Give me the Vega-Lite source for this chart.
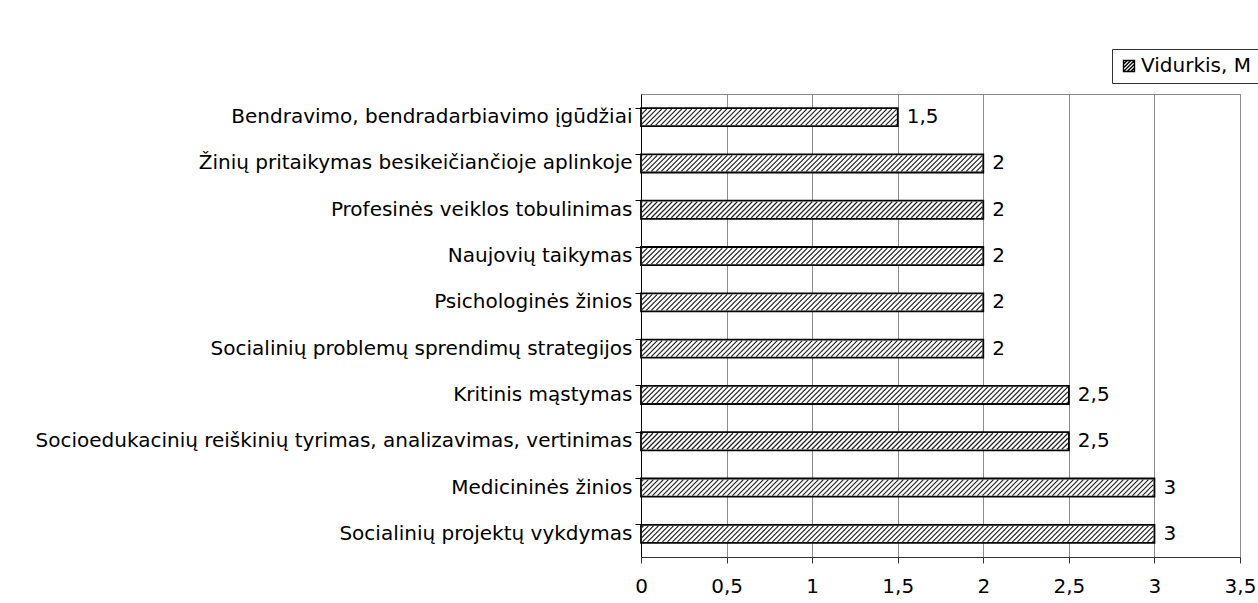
{
  "$schema": "https://vega.github.io/schema/vega-lite/v6.json",
  "width": 599,
  "height": 463,
  "autosize": {"type": "none"},
  "padding": {"left": 641, "top": 94, "right": 18, "bottom": 46},
  "background": "white",
  "config": {
    "font": "DejaVu Sans",
    "locale": {"number": {"decimal": ",", "thousands": "\u00a0", "grouping": [3], "currency": ["", " €"]}},
    "view": {"stroke": "#8c8c8c", "strokeWidth": 1}
  },
  "data": {
    "values": [
      {"kategorija": "Bendravimo, bendradarbiavimo įgūdžiai", "reiksme": 1.5},
      {"kategorija": "Žinių pritaikymas besikeičiančioje aplinkoje", "reiksme": 2},
      {"kategorija": "Profesinės veiklos tobulinimas", "reiksme": 2},
      {"kategorija": "Naujovių taikymas", "reiksme": 2},
      {"kategorija": "Psichologinės žinios", "reiksme": 2},
      {"kategorija": "Socialinių problemų sprendimų strategijos", "reiksme": 2},
      {"kategorija": "Kritinis mąstymas", "reiksme": 2.5},
      {"kategorija": "Socioedukacinių reiškinių tyrimas, analizavimas, vertinimas", "reiksme": 2.5},
      {"kategorija": "Medicininės žinios", "reiksme": 3},
      {"kategorija": "Socialinių projektų vykdymas", "reiksme": 3}
    ]
  },
  "encoding": {
    "y": {
      "field": "kategorija",
      "type": "nominal",
      "sort": null,
      "scale": {"paddingInner": 0.61, "paddingOuter": 0.305},
      "axis": {
        "title": null,
        "bandPosition": 0,
        "domainColor": "#000000",
        "domainWidth": 1,
        "tickColor": "#000000",
        "tickSize": 6,
        "labelPadding": 3,
        "labelFontSize": 20,
        "labelColor": "#000000",
        "labelLimit": 0,
        "grid": false
      }
    },
    "x": {
      "field": "reiksme",
      "type": "quantitative",
      "scale": {"domain": [0, 3.5], "nice": false},
      "axis": {
        "title": null,
        "values": [0, 0.5, 1, 1.5, 2, 2.5, 3, 3.5],
        "format": "~g",
        "domainColor": "#333333",
        "tickColor": "#333333",
        "tickSize": 6,
        "labelPadding": 13,
        "labelFontSize": 20,
        "labelColor": "#000000",
        "labelFlush": false,
        "grid": true,
        "gridColor": "#8c8c8c",
        "gridWidth": 1
      }
    }
  },
  "layer": [
    {
      "mark": {"type": "bar", "stroke": "#000000", "strokeWidth": 1.8},
      "encoding": {
        "fill": {
          "datum": "Vidurkis, M",
          "type": "nominal",
          "scale": {"range": ["#ffffff"]},
          "legend": {
            "title": null,
            "orient": "none",
            "legendX": 471,
            "legendY": -45,
            "labelFontSize": 20,
            "labelColor": "#000000",
            "symbolType": "M-1 -1H1V1H-1ZM-1 -0.33L-0.33 -1M-1 0.33L0.33 -1M-1 1L1 -1M-0.33 1L1 -0.33M0.33 1L1 0.33",
            "symbolSize": 121,
            "symbolStrokeColor": "#000000",
            "symbolStrokeWidth": 1.4,
            "strokeColor": "#333333",
            "padding": 7,
            "labelOffset": 2
          }
        }
      }
    },
    {
      "mark": {
        "type": "point",
        "filled": false,
        "clip": true,
        "size": 4,
        "stroke": "#222222",
        "strokeWidth": 1.2,
        "opacity": 1,
        "shape": "M-2 8l1-1M-7 8l6-6M-12 8l11-11M-17 8l16-16m-21 16l16-16m-21 16l16-16m-21 16l16-16m-21 16l16-16m-21 16l16-16m-21 16l16-16m-21 16l16-16m-21 16l16-16m-21 16l16-16m-21 16l16-16m-21 16l16-16m-21 16l16-16m-21 16l16-16m-21 16l16-16m-21 16l16-16m-21 16l16-16m-21 16l16-16m-21 16l16-16m-21 16l16-16m-21 16l16-16m-21 16l16-16m-21 16l16-16m-21 16l16-16m-21 16l16-16m-21 16l16-16m-21 16l16-16m-21 16l16-16m-21 16l16-16m-21 16l16-16m-21 16l16-16m-21 16l16-16m-21 16l16-16m-21 16l16-16m-21 16l16-16m-21 16l16-16m-21 16l16-16m-21 16l16-16m-21 16l16-16m-21 16l16-16m-21 16l16-16m-21 16l16-16m-21 16l16-16m-21 16l16-16m-21 16l16-16m-21 16l16-16m-21 16l16-16m-21 16l16-16m-21 16l16-16m-21 16l16-16m-21 16l16-16m-21 16l16-16m-21 16l16-16m-21 16l16-16m-21 16l16-16m-21 16l16-16m-21 16l16-16m-21 16l16-16m-21 16l16-16m-21 16l16-16m-21 16l16-16m-21 16l16-16m-21 16l16-16m-21 16l16-16m-21 16l16-16m-21 16l16-16m-21 16l16-16m-21 16l16-16m-21 16l16-16m-21 16l16-16m-21 16l16-16m-21 16l16-16m-21 16l16-16m-21 16l16-16m-21 16l16-16m-21 16l16-16m-21 16l16-16m-21 16l16-16m-21 16l16-16m-21 16l16-16m-21 16l16-16m-21 16l16-16m-21 16l16-16m-21 16l16-16m-21 16l16-16m-21 16l16-16m-21 16l16-16m-21 16l16-16m-21 16l16-16m-21 16l16-16m-21 16l16-16m-21 16l16-16m-21 16l16-16m-21 16l16-16m-21 16l16-16m-21 16l16-16m-21 16l16-16m-21 16l16-16m-21 16l16-16m-21 16l16-16m-21 16l16-16m-21 16l16-16m-21 16l16-16m-21 16l16-16m-21 16l16-16m-21 16l16-16m-21 16l16-16m-21 16l16-16m-21 16l16-16m-21 16l16-16m-21 16l16-16m-21 16l16-16m-21 16l16-16m-21 16l16-16m-21 16l16-16m-21 16l16-16m-21 16l16-16m-21 16l16-16m-21 16l16-16m-21 16l16-16m-21 16l16-16m-21 16l16-16m-21 16l16-16m-21 16l16-16m-21 16l16-16m-21 16l16-16m-21 16l16-16m-21 16l16-16m-21 16l16-16m-21 16l16-16m-21 16l16-16m-21 16l16-16m-21 16l16-16m-21 16l16-16m-21 16l16-16m-21 16l16-16m-21 16l16-16m-21 16l16-16m-21 16l16-16m-21 16l16-16m-21 16l16-16m-21 16l16-16m-21 16l16-16m-21 16l16-16m-21 16l16-16m-21 16l16-16m-21 16l16-16m-21 16l16-16m-21 16l16-16m-21 16l16-16m-21 16l16-16m-21 16l16-16m-21 16l16-16m-21 16l16-16m-21 16l16-16m-21 16l16-16m-21 16l16-16m-21 16l16-16m-21 16l16-16m-21 16l16-16m-21 16l16-16m-21 16l16-16m-21 16l16-16m-21 16l16-16m-21 16l16-16m-21 16l16-16m-21 16l16-16m-21 16l16-16m-21 16l16-16m-21 16l16-16m-21 16l16-16m-21 16l16-16m-21 16l16-16m-21 16"
      },
      "encoding": {}
    },
    {
      "mark": {"type": "text", "align": "left", "baseline": "middle", "dx": 9, "fontSize": 20, "color": "#000000"},
      "encoding": {
        "text": {"field": "reiksme", "type": "quantitative"}
      }
    }
  ]
}
